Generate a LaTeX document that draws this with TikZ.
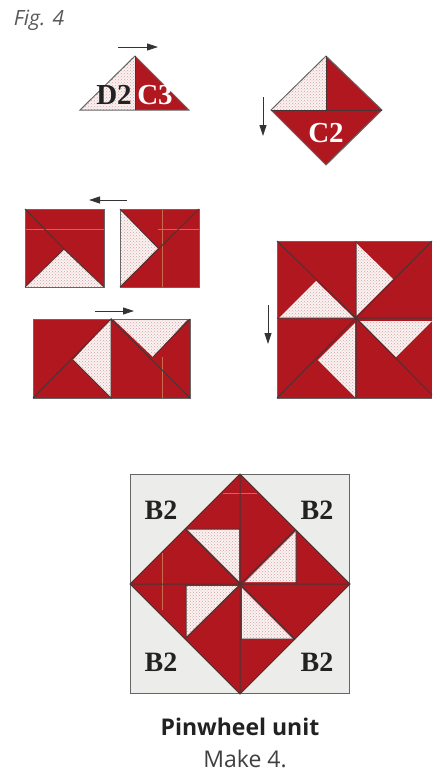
\documentclass[tikz,border=0pt]{standalone}
\usepackage{fontspec}
\setmainfont{Open Sans}
\newfontfamily\labelfont{Liberation Serif}
\usetikzlibrary{
  arrows.meta,
  patterns
}
\definecolor{qRed}{HTML}{B0171F}
\definecolor{qSpeck}{HTML}{DDA0A0}
\definecolor{qDot}{HTML}{F8F3F2}
\definecolor{qGrey}{HTML}{ECECEA}
\definecolor{qSeam}{HTML}{4A3434}
\definecolor{qEdge}{HTML}{666666}
\definecolor{qCrease}{HTML}{D8905A}
\definecolor{qText}{HTML}{222222}
\tikzset{
  redpiece/.style={fill=qRed, draw=none},
  dotpiece/.style={preaction={fill=qDot}, pattern=crosshatch dots, pattern color=qSpeck, draw=none},
  greypiece/.style={fill=qGrey, draw=qEdge, line width=1pt},
  outline/.style={draw=qEdge, line width=1pt},
  seam/.style={draw=qSeam, line width=1pt},
  crease/.style={draw=qCrease, line width=0.35pt, draw opacity=0.7},
  press/.style={-{Triangle[length=11pt, width=7pt]}, line width=0.8pt, black!80},
  blocktag/.style={font=\labelfont\bfseries\fontsize{28}{28}\selectfont, text=qText, inner sep=0pt},
  cuttag/.style={font=\labelfont\bfseries\fontsize{29}{29}\selectfont, inner sep=0pt}
}

\begin{document}
\begin{tikzpicture}[x=1pt, y=-1pt]
  \useasboundingbox (0,0) rectangle (432,774);
  \node[font=\itshape\fontsize{21}{21}\selectfont, text=black!65, inner sep=0pt] (figlabel) at (39,20) {Fig. 4};

  % top triangle
  \fill[dotpiece] (80,110) -- (135,56) -- (135,110) -- cycle;
  \fill[redpiece] (135,110) -- (135,56) -- (189,110) -- cycle;
  \draw[outline] (80,110) -- (135,56) -- (189,110) -- cycle;
  \draw[seam] (135,56) -- (135,110);
  \node[cuttag, text=qText] (dtwo) at (114,95) {D2};
  \node[cuttag, text=white] (cthree) at (155,95) {C3};
  \draw[press] (118,47) -- (158,47);

  % top diamond
  \fill[dotpiece] (271,110) -- (326,56) -- (326,110) -- cycle;
  \fill[redpiece] (326,110) -- (326,56) -- (382,110) -- (326,165) -- (271,110) -- cycle;
  \draw[outline] (271,110) -- (326,56) -- (382,110) -- (326,165) -- cycle;
  \draw[seam] (326,56) -- (326,110) (271,110) -- (382,110);
  \node[cuttag, text=white] (ctwo) at (326,133) {C2};
  \draw[press] (263,97) -- (263,136);

  % left square
  \fill[redpiece] (25,209) rectangle (104,287);
  \fill[dotpiece] (25,287) -- (64,249) -- (104,287) -- cycle;
  \draw[crease] (25,229) -- (104,229);
  \draw[outline] (25,209) rectangle (104,287);
  \draw[seam] (25,209) -- (64,249) -- (104,287) (25,287) -- (64,249);
  \draw[press] (127,200) -- (89,200);

  % right square
  \fill[redpiece] (120,209) rectangle (199,287);
  \fill[dotpiece] (120,209) -- (158,248) -- (120,287) -- cycle;
  \draw[crease] (158,229) -- (199,229) (162,209) -- (162,287);
  \draw[outline] (120,209) rectangle (199,287);
  \draw[seam] (120,287) -- (199,209) (120,209) -- (158,248);

  % lower strip
  \fill[redpiece] (33,319) rectangle (190,398);
  \fill[dotpiece] (111,319) -- (73,360) -- (111,398) -- cycle;
  \fill[dotpiece] (113,319) -- (188,319) -- (153,357) -- cycle;
  \draw[crease] (162,357) -- (162,398);
  \draw[outline] (33,319) rectangle (190,398);
  \draw[seam] (33,398) -- (111,319) -- (111,398) -- (73,360) (111,319) -- (190,398) (153,357) -- (190,319);
  \draw[press] (95,311) -- (134,311);

  % large square
  \fill[redpiece] (277,241) rectangle (432,398);
  \fill[dotpiece] (279,318) -- (354,318) -- (316,281) -- cycle;
  \fill[dotpiece] (356,243) -- (356,316) -- (393,279) -- cycle;
  \fill[dotpiece] (360,321) -- (432,321) -- (396,357) -- cycle;
  \fill[dotpiece] (355,323) -- (355,397) -- (318,360) -- cycle;
  \draw[outline] (432,241) -- (277,241) -- (277,398) -- (432,398);
  \draw[seam] (277,241) -- (356,318) -- (432,395) (277,398) -- (356,318) -- (432,241)
    (277,318) -- (432,318) (356,241) -- (356,398);
  \draw[press] (268,305) -- (268,344);

  % pinwheel unit
  \draw[greypiece] (130,474) rectangle (349,693);
  \fill[redpiece] (240,474) -- (350,584) -- (240,694) -- (130,584) -- cycle;
  \fill[dotpiece] (187,529) -- (239,529) -- (239,581) -- cycle;
  \fill[dotpiece] (296,531) -- (296,582) -- (245,582) -- cycle;
  \fill[dotpiece] (242,588) -- (293,639) -- (242,639) -- cycle;
  \fill[dotpiece] (186,586) -- (238,586) -- (186,637) -- cycle;
  \draw[crease] (223,493) -- (257,493) (162,553) -- (162,610);
  \draw[seam] (240,474) -- (350,584) -- (240,694) -- (130,584) -- cycle;
  \draw[seam] (130,584) -- (350,584) (240,474) -- (240,694)
    (186,530) -- (295,639) (295,530) -- (186,638)
    (186,529) -- (240,529) (296,530) -- (296,584) (240,639) -- (295,639) (186,584) -- (186,638);
  \node[blocktag] (btl) at (161,510) {B2};
  \node[blocktag] (btr) at (317,510) {B2};
  \node[blocktag] (bbl) at (161,662) {B2};
  \node[blocktag] (bbr) at (317,662) {B2};

  \node[font=\bfseries\fontsize{23}{23}\selectfont, text=qText, inner sep=0pt] (title) at (240,727) {Pinwheel unit};
  \node[font=\fontsize{23}{23}\selectfont, text=black!75, inner sep=0pt] (count) at (245,759) {Make 4.};
\end{tikzpicture}
\end{document}
